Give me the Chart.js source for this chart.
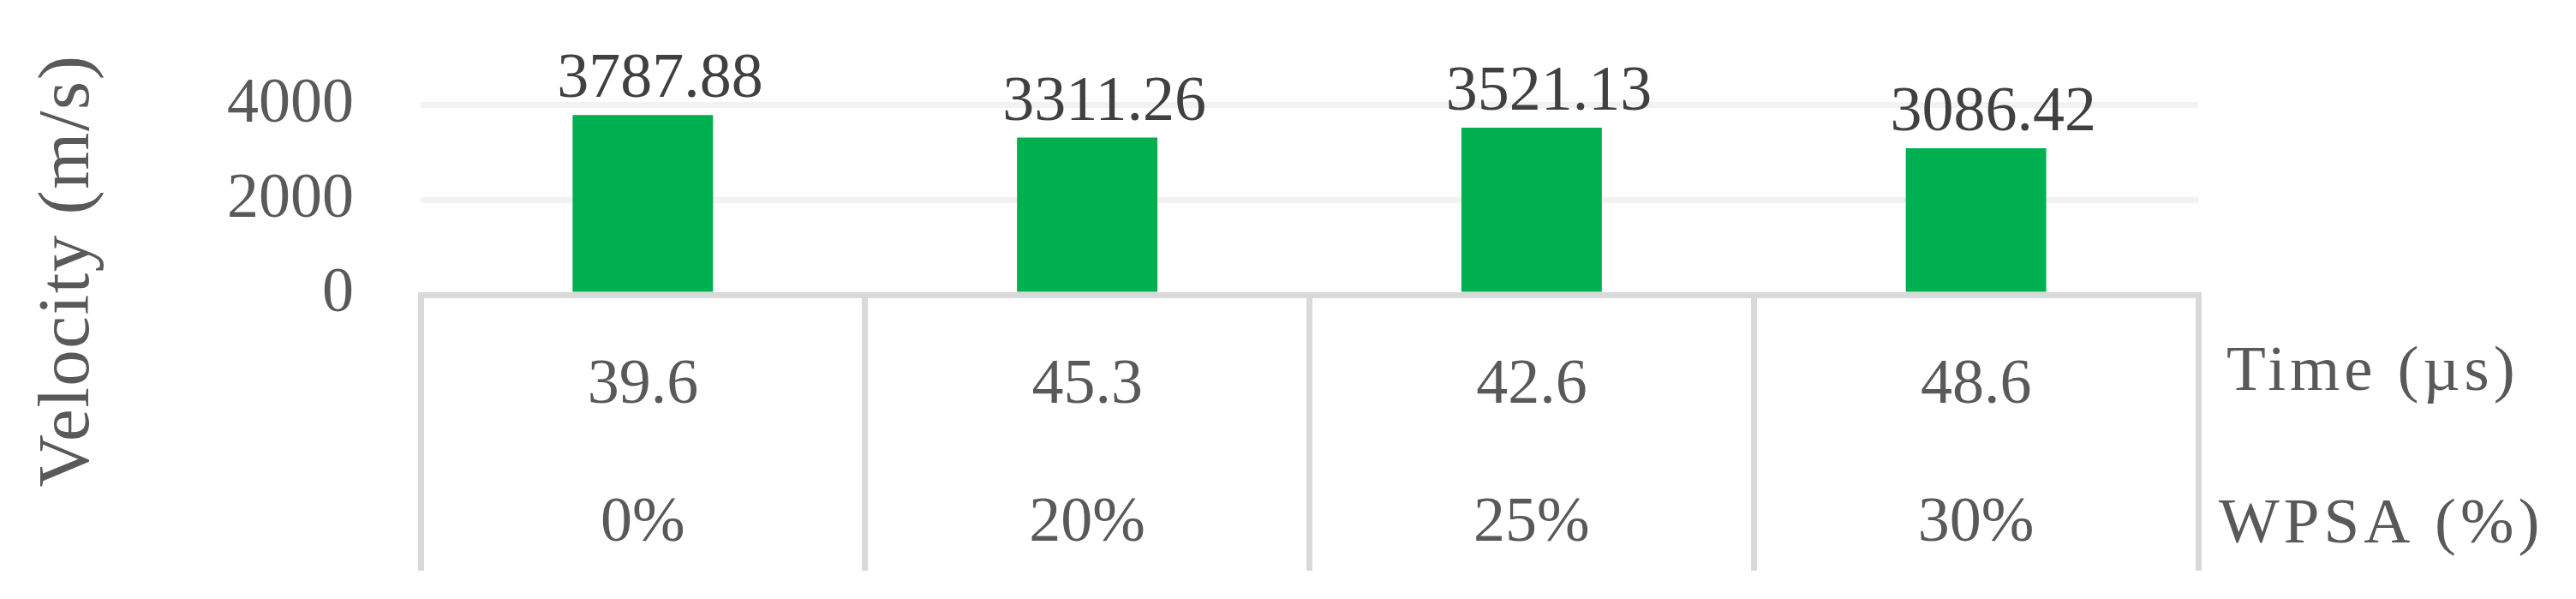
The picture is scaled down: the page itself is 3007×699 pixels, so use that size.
<!DOCTYPE html>
<html>
<head>
<meta charset="utf-8">
<title>Velocity vs WPSA</title>
<script src="https://cdn.jsdelivr.net/npm/chart.js@4.4.1/dist/chart.umd.min.js"></script>
<style>
  html, body { margin: 0; padding: 0; background: #fff; }
  #wrap { width: 3007px; height: 699px; position: relative; }
</style>
</head>
<body>
<div id="wrap"><canvas id="myChart"></canvas></div>
<script>
// data
var times = ['39.6', '45.3', '42.6', '48.6'];
var wpsa = ['0%', '20%', '25%', '30%'];
var velocity = [3787.88, 3311.26, 3521.13, 3086.42];
var yTicks = [0, 2000, 4000];
var rowTitles = ['Time (\u00b5s)', 'WPSA (%)'];
var yTitle = 'Velocity (m/s)';

var FONT = '"Liberation Serif", "Times New Roman", serif';

// two label rows under each bar: time on top, wpsa below
var labels = times.map(function (t, i) { return [t, wpsa[i]]; });

// value labels above the bars + the row titles and y title
var extraText = {
  id: 'extraText',
  afterDatasetsDraw: function (chart) {
    var ctx = chart.ctx;
    var meta = chart.getDatasetMeta(0);
    var area = chart.chartArea;
    ctx.save();
    ctx.font = '74px ' + FONT;
    ctx.fillStyle = '#404040';
    ctx.textAlign = 'center';
    ctx.textBaseline = 'alphabetic';
    meta.data.forEach(function (bar, i) {
      ctx.fillText(velocity[i].toFixed(2), bar.x + 20, bar.y - 21);
    });

    // row titles on the right of the table (wider serif in the original)
    ctx.fillStyle = '#595959';
    ctx.textAlign = 'left';
    ctx.font = '75px ' + FONT;
    ctx.letterSpacing = '5px';
    ctx.fillText(rowTitles[0], area.right + 33, 455);
    ctx.fillText(rowTitles[1], area.right + 24, 633);

    // y axis title, rotated
    ctx.font = '85px ' + FONT;
    ctx.letterSpacing = '1.5px';
    ctx.textAlign = 'center';
    ctx.translate(103, 316);
    ctx.rotate(-Math.PI / 2);
    ctx.fillText(yTitle, 0, 0);
    ctx.restore();
  }
};

var ctx = document.getElementById('myChart');
var myBarChart = new Chart(ctx, {
  type: 'bar',
  data: {
    labels: labels,
    datasets: [
      {
        label: 'Velocity',
        data: velocity,
        backgroundColor: '#00b050',
        categoryPercentage: 1,
        barPercentage: 0.316
      }
    ]
  },
  options: {
    responsive: true,
    maintainAspectRatio: false,
    animation: false,
    layout: { padding: { top: 122, right: 441, bottom: 0, left: 0 } },
    plugins: {
      legend: { display: false },
      tooltip: { enabled: false }
    },
    scales: {
      x: {
        offset: true,
        grid: {
          offset: true,
          drawOnChartArea: false,
          drawTicks: true,
          tickLength: 322,
          color: '#d9d9d9',
          lineWidth: 7
        },
        border: { display: true, color: '#d9d9d9', width: 7 },
        ticks: {
          color: '#595959',
          padding: -296,
          maxRotation: 0,
          autoSkip: false,
          font: { family: FONT, size: 74, lineHeight: '161px' }
        },
        afterFit: function (scale) { scale.height = 355; }
      },
      y: {
        min: 0,
        max: 4000,
        afterBuildTicks: function (scale) {
          scale.ticks = yTicks.map(function (v) { return { value: v }; });
        },
        grid: {
          drawTicks: false,
          color: function (c) { return c.tick && c.tick.value === 0 ? 'rgba(0,0,0,0)' : '#f2f2f2'; },
          lineWidth: 7
        },
        border: { display: false },
        ticks: {
          color: '#595959',
          padding: 78,
          font: { family: FONT, size: 74 },
          callback: function (v) { return String(v); }
        },
        afterFit: function (scale) { scale.width = 491; }
      }
    }
  },
  plugins: [extraText]
});
</script>
</body>
</html>
